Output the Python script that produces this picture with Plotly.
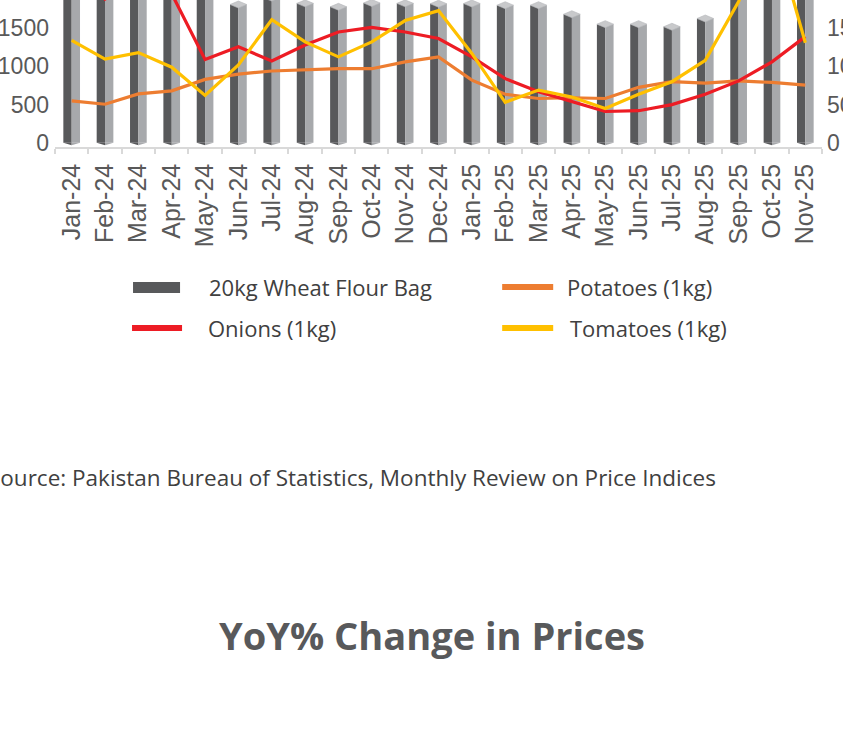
import plotly.graph_objects as go

months = ["Jan-24", "Feb-24", "Mar-24", "Apr-24", "May-24", "Jun-24", "Jul-24", "Aug-24",
          "Sep-24", "Oct-24", "Nov-24", "Dec-24", "Jan-25", "Feb-25", "Mar-25", "Apr-25",
          "May-25", "Jun-25", "Jul-25", "Aug-25", "Sep-25", "Oct-25", "Nov-25"]
wheat_flour = [2900, 2850, 2700, 2450, 2000, 1810, 1900, 1825, 1780, 1830, 1825, 1820,
               1823, 1801, 1801, 1683, 1553, 1553, 1519, 1627, 2250, 2600, 2800]
potatoes = [55, 50.5, 64, 68, 83, 90, 94, 96, 97, 97, 106, 112.5,
            82, 63.5, 58, 59, 58, 72.6, 80, 78, 81, 79, 75.6]
onions = [260, 188, 215, 195, 109, 125.6, 107, 128, 145, 151, 145, 136.5,
          112.5, 84, 67, 54, 41, 42, 50, 63.5, 81, 106, 139]
tomatoes = [134, 109.5, 118, 99, 62, 102, 161, 132, 112.5, 132, 160, 173,
            117, 53, 69, 60, 45, 63.5, 80, 108, 185, 285, 131]
left_ticks = [0, 500, 1000, 1500]
right_ticks = [0, 50, 100, 150]

W, H = 843, 749
PL, PR, PT, PB = 55, 821.7, 0, 147.5
PX_PER_UNIT = 0.07667
BASE_PX = 143.3
y_top = (BASE_PX - PT) / PX_PER_UNIT
y_bot = -(PB - BASE_PX) / PX_PER_UNIT

idx = list(range(len(months)))
HALF = 0.25
cap_d = 3.5 / PX_PER_UNIT
foot_d = 2.4 / PX_PER_UNIT

DARK = "#58595B"
LIGHT = "#A7A9AC"
CAP = "#C8C9CB"
ORANGE = "#ED7D31"
RED = "#ED1C24"
YELLOW = "#FFC000"
TEXT = "#404040"
TICK = "#595959"

fig = go.Figure()

fig.add_trace(go.Bar(x=idx, y=wheat_flour, width=HALF, offset=-HALF,
                     marker=dict(color=DARK, line=dict(width=0)), name="20kg Wheat Flour Bag",
                     showlegend=False))
fig.add_trace(go.Bar(x=idx, y=wheat_flour, width=HALF, offset=0,
                     marker=dict(color=LIGHT, line=dict(width=0)), showlegend=False))

# top caps and pointed feet of the 3D columns, derived from the data
cx, cy = [], []
for i, v in zip(idx, wheat_flour):
    cx += [i - HALF, i, i + HALF, i, i - HALF, None]
    cy += [v, v - cap_d, v, v + cap_d, v, None]
fig.add_trace(go.Scatter(x=cx, y=cy, mode="lines", fill="toself", fillcolor=CAP,
                         line=dict(width=0.6, color="#B5B7BA"), showlegend=False, hoverinfo="skip"))
fx, fy, gx, gy = [], [], [], []
for i in idx:
    fx += [i - HALF, i, i, i - HALF, None]
    fy += [0, 0, -foot_d, 0, None]
    gx += [i, i + HALF, i, i, None]
    gy += [0, 0, -foot_d, 0, None]
fig.add_trace(go.Scatter(x=fx, y=fy, mode="lines", fill="toself", fillcolor=DARK,
                         line=dict(width=0, color=DARK), showlegend=False, hoverinfo="skip"))
fig.add_trace(go.Scatter(x=gx, y=gy, mode="lines", fill="toself", fillcolor=LIGHT,
                         line=dict(width=0, color=LIGHT), showlegend=False, hoverinfo="skip"))

for name, vals, col in [("Potatoes (1kg)", potatoes, ORANGE),
                        ("Onions (1kg)", onions, RED),
                        ("Tomatoes (1kg)", tomatoes, YELLOW)]:
    fig.add_trace(go.Scatter(x=idx, y=vals, yaxis="y2", mode="lines", name=name,
                             line=dict(color=col, width=3.2), showlegend=False))


def px_x(p):
    return (p - PL) / (PR - PL)


def px_y(p):
    return (PB - p) / (PB - PT)


shapes = [
    dict(type="rect", xref="paper", yref="paper", x0=px_x(133), x1=px_x(180),
         y0=px_y(294), y1=px_y(283), fillcolor=DARK, line=dict(width=0)),
    dict(type="line", xref="paper", yref="paper", x0=px_x(502), x1=px_x(553),
         y0=px_y(288), y1=px_y(288), line=dict(color=ORANGE, width=6)),
    dict(type="line", xref="paper", yref="paper", x0=px_x(132), x1=px_x(182),
         y0=px_y(329), y1=px_y(329), line=dict(color=RED, width=6)),
    dict(type="line", xref="paper", yref="paper", x0=px_x(502), x1=px_x(553),
         y0=px_y(329), y1=px_y(329), line=dict(color=YELLOW, width=6)),
]

LEG_FONT = dict(family="Open Sans", size=22, color=TEXT)
annotations = []
for txt, x, y in [("20kg Wheat Flour Bag", 207, 288), ("Potatoes (1kg)", 565, 288),
                  ("Onions (1kg)", 206, 329), ("Tomatoes (1kg)", 568, 329)]:
    annotations.append(dict(text=txt, xref="paper", yref="paper", x=px_x(x), y=px_y(y),
                            xanchor="left", yanchor="middle", showarrow=False, font=LEG_FONT))
annotations.append(dict(text="Source: Pakistan Bureau of Statistics, Monthly Review on Price Indices",
                        xref="paper", yref="paper", x=px_x(-14), y=px_y(479), xanchor="left",
                        yanchor="middle", showarrow=False,
                        font=dict(family="Open Sans", size=22.5, color=TEXT)))
annotations.append(dict(text="<b>YoY% Change in Prices</b>", xref="paper", yref="paper",
                        x=px_x(432), y=px_y(637), xanchor="center", yanchor="middle",
                        showarrow=False, font=dict(family="Open Sans", size=38, color=DARK)))

TICKFONT = dict(family="Liberation Sans", size=23, color=TICK)

fig.update_layout(
    width=W, height=H,
    margin=dict(l=PL, r=W - PR, t=PT, b=H - PB, pad=0),
    paper_bgcolor="white", plot_bgcolor="white",
    barmode="overlay", showlegend=False,
    xaxis=dict(range=[-0.5, len(months) - 0.5], tickmode="array", tickvals=idx, ticktext=months,
               tickangle=-90, tickfont=dict(family="Liberation Sans", size=25, color=TICK),
               showgrid=False, zeroline=False, showline=True, linecolor="#D9D9D9", linewidth=1.5,
               ticks="outside", ticklen=5, tickcolor="rgba(0,0,0,0)",
               minor=dict(tickmode="linear", tick0=-0.5, dtick=1, ticks="outside", ticklen=5,
                          tickcolor="#D9D9D9", tickwidth=1.5, showgrid=False),
               fixedrange=True),
    yaxis=dict(range=[y_bot, y_top], tickmode="array", tickvals=left_ticks,
               ticktext=[str(t) for t in left_ticks], tickfont=TICKFONT, showgrid=False,
               zeroline=False, showline=False, ticks="", automargin=False,
               ticklabelstandoff=5),
    yaxis2=dict(range=[y_bot / 10, y_top / 10], overlaying="y", side="right", tickmode="array",
                tickvals=right_ticks, ticktext=[str(t) for t in right_ticks], tickfont=TICKFONT,
                showgrid=False, zeroline=False, showline=False, ticks="", automargin=False,
                ticklabelstandoff=4),
    shapes=shapes, annotations=annotations,
)

fig.write_html("out.html", config={"displayModeBar": False},
               post_script="document.body.style.margin='0px';")
